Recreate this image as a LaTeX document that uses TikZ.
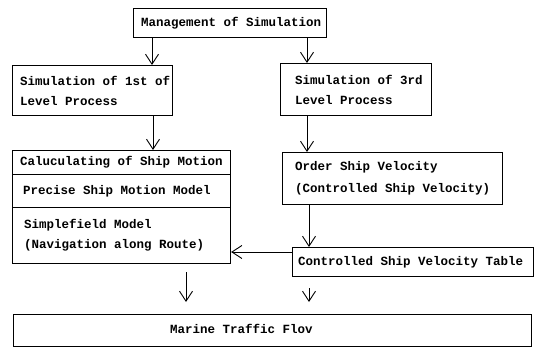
\documentclass[tikz,border=0pt]{standalone}
\usepackage{fontspec}
\setmonofont{Liberation Mono}
\usetikzlibrary{arrows.meta}
\begin{document}
\begin{tikzpicture}[x=1pt,y=-1pt,
  box/.style={draw, line width=1.1pt, inner sep=0pt, anchor=north west},
  lbl/.style={font=\ttfamily\bfseries\fontsize{12.5}{20}\selectfont, inner sep=0pt, align=left, anchor=west},
  arr/.style={line width=0.9pt, -{Straight Barb[length=10pt,width=13pt,line width=0.9pt]}}]
\useasboundingbox (0,0) rectangle (540,347);
% boxes
\node[box, minimum width=193pt, minimum height=29pt] (top) at (133,8) {};
\node[box, minimum width=160pt, minimum height=50pt] (b1) at (12,65) {};
\node[box, minimum width=151pt, minimum height=52pt] (b3) at (280,63) {};
\node[box, minimum width=218pt, minimum height=24pt] (c1) at (12,150) {};
\node[box, minimum width=218pt, minimum height=33pt] (c2) at (12,174) {};
\node[box, minimum width=218pt, minimum height=56pt] (c3) at (12,207) {};
\node[box, minimum width=220pt, minimum height=52pt] (ord) at (282,152) {};
\node[box, minimum width=241pt, minimum height=29pt] (tab) at (292,247) {};
\node[box, minimum width=518pt, minimum height=32pt] (mar) at (13,314) {};
% labels
\node[lbl] (topt) at ([xshift=8pt]top.west) {Management of Simulation};
\node[lbl] (b1t) at ([xshift=8pt]b1.west) {Simulation of 1st of\\Level Process};
\node[lbl] (b3t) at ([xshift=15pt]b3.west) {Simulation of 3rd\\Level Process};
\node[lbl] (c1t) at ([xshift=8pt]c1.west) {Caluculating of Ship Motion};
\node[lbl] (c2t) at ([xshift=11pt]c2.west) {Precise Ship Motion Model};
\node[lbl] (c3t) at ([xshift=12pt]c3.west) {Simplefield Model\\(Navigation along Route)};
\node[lbl, font=\ttfamily\bfseries\fontsize{12.5}{22}\selectfont] (ordt) at ([xshift=13pt]ord.west) {Order Ship Velocity\\(Controlled Ship Velocity)};
\node[lbl] (tabt) at ([xshift=6pt]tab.west) {Controlled Ship Velocity Table};
\node[lbl] (mart) at ([xshift=157pt,yshift=2pt]mar.west) {Marine Traffic Flov};
% connectors
\draw[arr] ([xshift=19pt]top.south west) -- ([xshift=19pt]top.south west |- b1.north);
\draw[arr] ([xshift=27pt]b3.north west |- top.south) -- ([xshift=27pt]b3.north west);
\draw[arr] ([xshift=141pt]c1.north west |- b1.south) -- ([xshift=141pt]c1.north west);
\draw[arr] ([xshift=27pt]b3.south west) -- ([xshift=27pt]b3.south west |- ord.north);
\draw[arr] ([xshift=27pt]ord.south west) -- ([xshift=27pt]ord.south west |- tab.north);
\draw[arr] ([yshift=-5pt]tab.north west) -- ([yshift=-5pt]tab.north west -| c3.east);
\coordinate (f1s) at (186,272);
\coordinate (f1e) at (186,302);
\coordinate (f2s) at (309,288);
\coordinate (f2e) at (309,302);
\draw[arr] (f1s) -- (f1e);
\draw[arr] (f2s) -- (f2e);
\end{tikzpicture}
\end{document}
